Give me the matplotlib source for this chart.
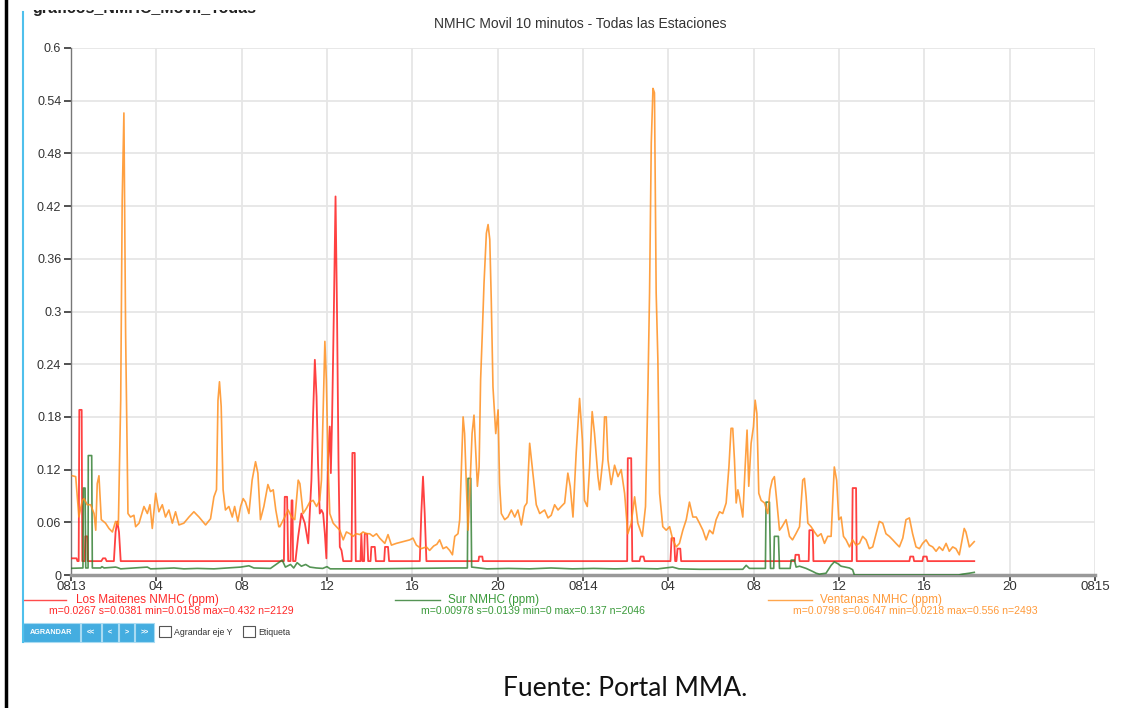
import numpy as np
import matplotlib
matplotlib.use("Agg")
import matplotlib.pyplot as plt
from matplotlib.patches import Rectangle
from matplotlib.lines import Line2D

plt.rcParams['font.family'] = ['Liberation Sans', 'DejaVu Sans']

# x = hours since 13 Aug 00:00, y = ppm
x_ticks = list(range(0, 49, 4))
x_labels = ["0813", "04", "08", "12", "16", "20", "0814", "04", "08", "12", "16", "20", "0815"]
y_ticks = [0, 0.06, 0.12, 0.18, 0.24, 0.3, 0.36, 0.42, 0.48, 0.54, 0.6]
y_labels = ["0", "0.06", "0.12", "0.18", "0.24", "0.3", "0.36", "0.42", "0.48", "0.54", "0.6"]

B = 0.0158
maitenes_h = [0.00, 0.26, 0.30, 0.36, 0.39, 0.50, 0.53, 0.64, 0.67, 0.76, 0.79, 1.42, 1.50, 1.61, 1.67,
              2.01, 2.09, 2.17, 2.25, 2.33, 9.98, 10.02, 10.13, 10.18, 10.29, 10.34, 10.38, 10.41, 10.52,
              10.65, 10.80, 10.96, 11.12, 11.27, 11.35, 11.43, 11.51, 11.58, 11.66, 11.74, 11.82, 11.90,
              11.97, 12.05, 12.13, 12.18, 12.24, 12.32, 12.40, 12.47, 12.54, 12.60, 12.68, 12.76, 13.15,
              13.19, 13.30, 13.35, 13.57, 13.61, 13.66, 13.74, 13.77, 13.88, 13.93, 14.04, 14.08, 14.24,
              14.29, 14.68, 14.72, 14.86, 14.91, 16.35, 16.42, 16.50, 16.58, 16.66, 19.10, 19.13, 19.28,
              19.31, 26.07, 26.10, 26.26, 26.31, 26.65, 26.70, 26.84, 26.89, 28.10, 28.15, 28.27, 28.32,
              28.38, 28.43, 28.56, 28.60, 33.93, 33.96, 34.12, 34.15, 34.58, 34.61, 34.77, 34.80, 36.61,
              36.64, 36.80, 36.83, 39.30, 39.34, 39.48, 39.52, 39.91, 39.95, 40.11, 40.15, 42.34]
maitenes_v = [0.019, 0.019, B, B, 0.188, 0.188, B, B, 0.044, 0.044, B, B, 0.019, 0.019, B,
              B, 0.049, 0.061, 0.049, B, B, 0.089, 0.089, B, B, 0.085, 0.085, B, B,
              0.044, 0.070, 0.059, 0.036, 0.108, 0.184, 0.245, 0.203, 0.127, 0.070, 0.074, 0.070, 0.047,
              0.019, 0.131, 0.169, 0.116, 0.180, 0.298, 0.431, 0.298, 0.127, 0.032, 0.028, B, B,
              0.139, 0.139, B, B, 0.047, B, B, 0.047, 0.047, B, B, 0.032, 0.032,
              B, B, 0.032, 0.032, B, B, 0.070, 0.112, 0.070, B, B, 0.021, 0.021,
              B, B, 0.133, 0.133, B, B, 0.021, 0.021, B, B, 0.042, 0.042, B,
              B, 0.030, 0.030, B, B, 0.023, 0.023, B, B, 0.051, 0.051, B, B,
              0.099, 0.099, B, B, 0.021, 0.021, B, B, 0.021, 0.021, B, B]

sur_h = [0.00, 0.53, 0.56, 0.58, 0.66, 0.69, 0.80, 0.81, 0.97, 1.00, 1.39, 1.45, 1.55, 2.09, 2.17, 2.33,
         3.58, 3.73, 4.36, 4.83, 5.29, 5.92, 6.70, 7.95, 8.34, 8.57, 9.35, 9.90, 10.05, 10.29, 10.44,
         10.60, 10.80, 11.00, 11.20, 11.50, 11.80, 12.00, 12.15, 14.00, 16.00, 18.00, 18.58, 18.61,
         18.74, 18.78, 19.50, 20.50, 21.50, 22.50, 23.50, 24.50, 25.50, 26.50, 27.50, 28.20, 28.50,
         29.46, 31.49, 31.65, 31.80, 32.55, 32.58, 32.74, 32.79, 32.94, 32.97, 33.16, 33.21, 33.71,
         33.76, 33.91, 33.99, 34.15, 34.46, 34.77, 34.93, 35.08, 35.39, 35.63, 35.78, 35.94, 36.10,
         36.49, 36.64, 36.72, 41.60, 41.80, 42.10, 42.34]
sur_v = [0.0076, 0.008, 0.008, 0.099, 0.099, 0.008, 0.008, 0.136, 0.136, 0.008, 0.008, 0.0095, 0.008,
         0.009, 0.0085, 0.007, 0.009, 0.007, 0.0075, 0.008, 0.007, 0.0075, 0.007, 0.009, 0.0105, 0.008,
         0.0075, 0.017, 0.009, 0.012, 0.008, 0.014, 0.010, 0.012, 0.009, 0.008, 0.0075, 0.0095, 0.007,
         0.007, 0.0075, 0.008, 0.008, 0.110, 0.110, 0.009, 0.007, 0.0075, 0.007, 0.008, 0.007, 0.0075,
         0.007, 0.0075, 0.007, 0.009, 0.007, 0.0065, 0.0065, 0.011, 0.0075, 0.0075, 0.083, 0.083,
         0.0075, 0.0075, 0.044, 0.044, 0.0075, 0.0075, 0.017, 0.017, 0.009, 0.010, 0.0075, 0.004,
         0.002, 0.001, 0.002, 0.011, 0.015, 0.013, 0.010, 0.008, 0.006, 0.0, 0.0, 0.001, 0.002, 0.003]

ventanas_h = [0.06, 0.22, 0.37, 0.53, 0.61, 0.76, 0.92, 1.08, 1.16, 1.23, 1.31, 1.42, 1.62, 1.78, 1.94,
              2.09, 2.22, 2.33, 2.40, 2.48, 2.56, 2.67, 2.79, 2.95, 3.03, 3.19, 3.42, 3.58, 3.70, 3.81,
              3.97, 4.12, 4.28, 4.43, 4.59, 4.75, 4.90, 5.06, 5.29, 5.53, 5.76, 6.00, 6.31, 6.54, 6.70,
              6.82, 6.89, 6.96, 7.04, 7.13, 7.24, 7.40, 7.56, 7.67, 7.82, 7.95, 8.07, 8.18, 8.34, 8.49,
              8.65, 8.76, 8.88, 9.04, 9.23, 9.35, 9.48, 9.60, 9.74,
              9.79, 10.02, 10.18, 10.34, 10.49, 10.65, 10.73, 10.88, 11.04, 11.19, 11.35, 11.51, 11.66,
              11.74, 11.90, 11.97, 12.05, 12.13, 12.29, 12.44, 12.60, 12.76, 12.91, 13.07, 13.22, 13.38,
              13.54, 13.69, 13.85, 14.00, 14.16, 14.32, 14.47, 14.71, 14.86, 15.02, 15.25, 15.57, 15.88,
              16.03, 16.19, 16.42, 16.66, 16.81, 17.00, 17.15,
              17.28, 17.44, 17.60, 17.75, 17.88, 17.99, 18.14, 18.22, 18.30, 18.38, 18.45, 18.53, 18.61,
              18.69, 18.80, 18.89, 18.97, 19.05, 19.13, 19.20, 19.28, 19.36, 19.47, 19.55, 19.63, 19.70,
              19.78, 19.91, 20.02, 20.09, 20.17, 20.33, 20.48, 20.64, 20.80, 20.95, 21.11, 21.26, 21.37,
              21.50, 21.65, 21.81, 21.97, 22.20, 22.36, 22.51, 22.67, 22.83, 22.98, 23.14, 23.29, 23.40,
              23.53, 23.68, 23.84, 23.97, 24.07, 24.20, 24.31, 24.43, 24.54, 24.70,
              24.78, 24.93, 25.01, 25.09, 25.17, 25.32, 25.48, 25.64, 25.79, 25.95, 26.10, 26.26, 26.42,
              26.57, 26.78, 26.93, 27.04, 27.12, 27.20, 27.28, 27.35, 27.43, 27.51, 27.59, 27.74, 27.90,
              28.06, 28.21, 28.37, 28.52, 28.68, 28.84, 28.99, 29.15, 29.31, 29.46, 29.62, 29.77, 29.93,
              30.09, 30.24, 30.40, 30.55, 30.71, 30.84, 30.94, 31.02, 31.10, 31.18, 31.26, 31.33, 31.49,
              31.60, 31.69, 31.77, 31.88, 31.99, 32.07, 32.15, 32.24, 32.35, 32.51, 32.66, 32.77, 32.87,
              32.97, 33.08, 33.21, 33.33, 33.52, 33.68, 33.82, 33.98,
              34.15, 34.30, 34.38, 34.46, 34.54, 34.69, 34.85, 35.00, 35.16, 35.32, 35.47, 35.63, 35.78,
              35.89, 35.99, 36.10, 36.21, 36.33,
              36.49, 36.64, 36.80, 36.96, 37.11, 37.27, 37.42, 37.58, 37.74, 37.89, 38.05, 38.20, 38.36,
              38.52, 38.67, 38.83, 38.99, 39.14, 39.30, 39.45, 39.61, 39.77, 39.92, 40.08, 40.23, 40.39,
              40.55, 40.70, 40.86, 41.02, 41.17, 41.33, 41.48, 41.64, 41.80, 41.87, 41.95, 42.11, 42.26,
              42.34]
ventanas_v = [0.113, 0.112, 0.066, 0.085, 0.087, 0.080, 0.080, 0.070, 0.051, 0.104, 0.113, 0.063, 0.059,
              0.053, 0.049, 0.061, 0.057, 0.199, 0.427, 0.526, 0.275, 0.070, 0.066, 0.068, 0.055, 0.059,
              0.078, 0.070, 0.080, 0.053, 0.093, 0.072, 0.080, 0.066, 0.074, 0.059, 0.072, 0.057, 0.059,
              0.066, 0.072, 0.066, 0.057, 0.064, 0.089, 0.097, 0.199, 0.220, 0.192, 0.097, 0.074, 0.078,
              0.066, 0.078, 0.061, 0.078, 0.087, 0.083, 0.070, 0.108, 0.129, 0.116, 0.063, 0.078, 0.103,
              0.095, 0.097, 0.074, 0.055,
              0.055, 0.066, 0.074, 0.066, 0.063, 0.108, 0.104, 0.070, 0.076, 0.083, 0.085, 0.078, 0.085,
              0.108, 0.266, 0.222, 0.127, 0.070, 0.059, 0.055, 0.051, 0.040, 0.049, 0.047, 0.044, 0.047,
              0.046, 0.049, 0.047, 0.047, 0.044, 0.047, 0.042, 0.036, 0.046, 0.034, 0.036, 0.038, 0.040,
              0.042, 0.034, 0.030, 0.032, 0.028, 0.033, 0.035,
              0.040, 0.030, 0.032, 0.028, 0.023, 0.044, 0.047, 0.063, 0.123, 0.180, 0.161, 0.104, 0.051,
              0.093, 0.161, 0.182, 0.142, 0.101, 0.123, 0.222, 0.275, 0.332, 0.389, 0.399, 0.382, 0.313,
              0.214, 0.161, 0.188, 0.104, 0.070, 0.063, 0.066, 0.074, 0.066, 0.074, 0.057, 0.078, 0.082,
              0.150, 0.116, 0.080, 0.070, 0.074, 0.065, 0.068, 0.080, 0.074, 0.078, 0.082, 0.116, 0.101,
              0.066, 0.139, 0.201, 0.154, 0.085, 0.078, 0.123, 0.186, 0.161, 0.112,
              0.097, 0.131, 0.180, 0.180, 0.131, 0.103, 0.125, 0.112, 0.120, 0.093, 0.047, 0.059, 0.089,
              0.059, 0.044, 0.078, 0.207, 0.321, 0.492, 0.554, 0.549, 0.321, 0.245, 0.093, 0.055, 0.051,
              0.055, 0.040, 0.032, 0.036, 0.051, 0.063, 0.083, 0.066, 0.066, 0.059, 0.051, 0.040, 0.051,
              0.047, 0.063, 0.072, 0.070, 0.082, 0.123, 0.167, 0.167, 0.131, 0.082, 0.097, 0.089, 0.066,
              0.123, 0.165, 0.101, 0.150, 0.169, 0.199, 0.184, 0.093, 0.085, 0.082, 0.070, 0.097, 0.108,
              0.112, 0.085, 0.051, 0.055, 0.063, 0.044, 0.040, 0.047,
              0.055, 0.108, 0.110, 0.089, 0.059, 0.055, 0.049, 0.044, 0.047, 0.036, 0.044, 0.044, 0.123,
              0.108, 0.063, 0.066, 0.044, 0.040,
              0.032, 0.040, 0.034, 0.036, 0.044, 0.040, 0.030, 0.032, 0.047, 0.061, 0.059, 0.047, 0.044,
              0.040, 0.036, 0.032, 0.042, 0.063, 0.065, 0.047, 0.032, 0.030, 0.036, 0.040, 0.034, 0.032,
              0.027, 0.032, 0.028, 0.036, 0.027, 0.032, 0.030, 0.023, 0.044, 0.053, 0.049, 0.032, 0.036,
              0.038]

series_names = ["Los Maitenes NMHC (ppm)", "Sur NMHC (ppm)", "Ventanas NMHC (ppm)"]
series_stats = ["m=0.0267 s=0.0381 min=0.0158 max=0.432 n=2129",
                "m=0.00978 s=0.0139 min=0 max=0.137 n=2046",
                "m=0.0798 s=0.0647 min=0.0218 max=0.556 n=2493"]
line_colors = ["#ff1f1f", "#2a7a2a", "#ff9020"]
text_colors = ["#ff2a2a", "#3a9a3a", "#ff9a3a"]

W, H = 1140, 708
fig = plt.figure(figsize=(W / 100, H / 100), dpi=100)


def fx(x):
    return x / W


def fy(y):
    return 1 - y / H


ax = fig.add_axes([fx(71), fy(575), (1095 - 71) / W, (575 - 48) / H])
ax.plot(maitenes_h, maitenes_v, color=line_colors[0], lw=1.3, alpha=0.85, zorder=3)
ax.plot(sur_h, sur_v, color=line_colors[1], lw=1.2, alpha=0.8, zorder=3)
ax.plot(ventanas_h, ventanas_v, color=line_colors[2], lw=1.2, alpha=0.85, zorder=4)

ax.set_xlim(0, 48)
ax.set_ylim(0, 0.6)
ax.set_xticks(x_ticks)
ax.set_xticklabels(x_labels)
ax.set_yticks(y_ticks)
ax.set_yticklabels(y_labels)
ax.grid(color="#e6e6e6", lw=1.3)
ax.set_axisbelow(True)
for s in ["top", "right"]:
    ax.spines[s].set_visible(False)
ax.spines["left"].set_color("#777777")
ax.spines["left"].set_linewidth(1.0)
ax.spines["bottom"].set_color("#999999")
ax.spines["bottom"].set_linewidth(2.5)
ax.tick_params(axis="both", direction="out", length=5, width=1.2, color="#333333",
               labelcolor="#333333")
ax.tick_params(axis="y", labelsize=9, pad=2)
ax.tick_params(axis="x", labelsize=9.5, pad=0, length=4)

fig.text(fx(580), fy(24), "NMHC Movil 10 minutos - Todas las Estaciones", ha="center", va="center",
         fontsize=10, color="#333333")

# header of the page crop: only the bottom sliver of the text is visible
hdr_ax = fig.add_axes([fx(24), fy(16), 300 / W, 6 / H])
hdr_ax.set_xlim(0, 1)
hdr_ax.set_ylim(0, 1)
hdr_ax.axis("off")
hdr_ax.text(0.027, (16 - 12.5) / 6, "graficos_NMHC_Movil_Todas", ha="left", va="baseline",
            fontsize=11.5, weight="bold", color="#222222", clip_on=True)

# legend under the chart
leg_lines = [(23, 66), (395, 440), (768, 812)]
leg_names_x = [76, 448, 820]
leg_stats_x = [49, 421, 793]
for i in range(3):
    fig.add_artist(Line2D([fx(leg_lines[i][0]), fx(leg_lines[i][1])], [fy(600), fy(600)],
                          color=line_colors[i], lw=1.0, alpha=0.8))
    fig.text(fx(leg_names_x[i]), fy(600.5), series_names[i], ha="left", va="center",
             fontsize=8.5, color=text_colors[i])
    fig.text(fx(leg_stats_x[i]), fy(611), series_stats[i], ha="left", va="center",
             fontsize=7.6, color=text_colors[i])

# buttons
buttons = ["AGRANDAR", "<<", "<", ">", ">>"]
btn_x = [(23, 80), (81, 101), (102, 118), (119, 134), (135, 154)]
for lab, (x0, x1) in zip(buttons, btn_x):
    fig.add_artist(Rectangle((fx(x0), fy(642)), (x1 - x0) / W, 19 / H, facecolor="#44ade0",
                             edgecolor="#a9dbf2", lw=0.8))
    fig.text(fx((x0 + x1) / 2), fy(632.5), lab, ha="center", va="center", fontsize=5.2,
             weight="bold", color="white")
for bx, lab in [(159, "Agrandar eje Y"), (243, "Etiqueta")]:
    fig.add_artist(Rectangle((fx(bx), fy(637)), 12 / W, 11 / H, facecolor="white",
                             edgecolor="#555555", lw=0.8))
    fig.text(fx(bx + 15), fy(632.5), lab, ha="left", va="center", fontsize=6.3, color="#333333")

# page frame lines
fig.add_artist(Line2D([fx(22.5), fx(22.5)], [fy(12), fy(642)], color="#4fc0ec", lw=1.5, zorder=6))
fig.add_artist(Line2D([fx(6), fx(6)], [0, 1], color="black", lw=2.5, zorder=6))

fig.text(fx(625), fy(688), "Fuente: Portal MMA.", ha="center", va="center", fontsize=19,
         family=["Lato", "DejaVu Sans"], color="#111111")

fig.savefig("out.png", dpi=100)
